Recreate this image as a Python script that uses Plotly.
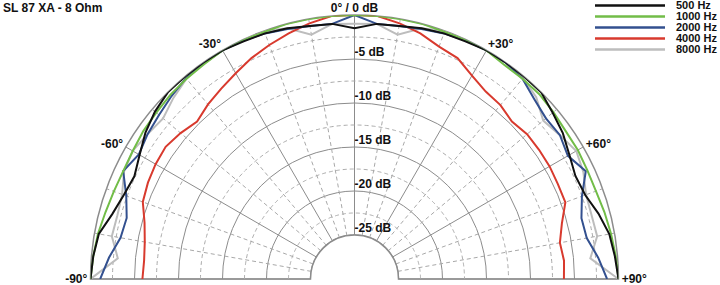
import numpy as np
import plotly.graph_objects as go

# ---------------- data ----------------
angles = list(range(-90, 95, 5))

db_500 = [0, -0.2, -0.5, -1.5, -2.1, -2.4, -1.8, -1.0, -0.4, 0, 0, 0, 0,
          -0.2, -0.3, -0.5, -0.8, -0.9, -1.5, -0.9, -0.8, -0.5, -0.3, -0.2,
          0, 0, 0, 0, -0.6, -1.1, -1.8, -2.3, -2.1, -1.3, -0.6, -0.3, 0]
db_1000 = [0, -0.2, -0.4, -0.7, -0.9, -1.0, -0.9, -0.7, -0.6, -0.4, -0.3, -0.2, 0,
           0, -0.1, 0, 0, 0, 0, 0, 0, 0, -0.1, 0,
           0, -0.3, -0.3, -0.3, -0.5, -0.7, -0.7, -0.8, -0.8, -0.6, -0.4, -0.2, 0]
db_2000 = [-1.1, -2.0, -3.0, -3.2, -2.4, -1.0, -1.7, -1.3, -1.0, -0.6, -0.2, -0.1, 0,
           -0.1, -0.3, -0.6, -0.8, -0.9, 0, -0.9, -0.8, -0.6, -0.3, -0.1,
           0, 0, -0.3, -1.1, -1.6, -1.5, -2.0, -1.0, -2.5, -3.3, -3.2, -2.2, -1.3]
db_4000 = [-5.9, -6.0, -5.8, -5.3, -4.4, -4.1, -3.9, -3.8, -4.2, -4.7, -4.1, -3.6, -3.0,
           -2.3, -1.7, -1.1, -0.5, 0, 0, 0, -0.5, -1.1, -1.9, -2.3,
           -3.3, -4.0, -4.2, -4.7, -4.4, -4.4, -4.4, -4.5, -4.5, -5.6, -6.3, -6.1, -6.2]
db_8000 = [0, -3.0, -2.0, -2.1, -1.9, -1.1, -0.9, -1.3, -1.6, -0.9, -0.3, 0, 0,
           0, 0, -0.5, -1.8, -0.9, -1.0, -0.9, -1.8, -0.5, 0, 0,
           0, 0, -0.2, -0.8, -2.0, -1.5, -0.9, -1.3, -2.0, -2.1, -2.0, -3.1, 0]

series_names = ["500 Hz", "1000 Hz", "2000 Hz", "4000 Hz", "8000 Hz"]
series_values = [db_500, db_1000, db_2000, db_4000, db_8000]
series_colors = ["#111111", "#72bd48", "#33508f", "#d83a2e", "#bdbdbd"]

radial_ticks = [-25, -20, -15, -10, -5, 0]
radial_labels = ["-25 dB", "-20 dB", "-15 dB", "-10 dB", "-5 dB"]
radial_label_vals = [-25, -20, -15, -10, -5]
minor_rings = [-22.5, -17.5, -12.5, -7.5, -2.5]
angle_ticks = [-90, -60, -30, 0, 30, 60, 90]
angle_labels = ["-90°", "-60°", "-30°", "", "+30°", "+60°", "+90°"]
top_label = "0° / 0 dB"
minor_spokes = [-80, -70, -50, -40, -20, -10, 10, 20, 40, 50, 70, 80]

title_text = "SL 87 XA - 8 Ohm"

# ---------------- figure ----------------
W, H = 720, 285
FONT = "Liberation Sans, Arial, sans-serif"
GRID = "#8c8c8c"
DASH = "#a8a8a8"
TXT = "#111111"

fig = go.Figure()

arc = np.linspace(-90, 90, 361)
for rr in minor_rings:
    fig.add_trace(go.Scatterpolar(r=[rr] * len(arc), theta=arc, mode="lines",
                                  line=dict(color=DASH, width=1, dash="4px,3px"),
                                  hoverinfo="skip", showlegend=False))
for a in minor_spokes:
    fig.add_trace(go.Scatterpolar(r=[radial_ticks[0], radial_ticks[-1]], theta=[a, a], mode="lines",
                                  line=dict(color=DASH, width=1, dash="4px,3px"),
                                  hoverinfo="skip", showlegend=False))
# inner (hole) ring
fig.add_trace(go.Scatterpolar(r=[radial_ticks[0]] * len(arc), theta=arc, mode="lines",
                              line=dict(color=GRID, width=1.3),
                              hoverinfo="skip", showlegend=False))

# dB labels along the 0° spoke
fig.add_trace(go.Scatterpolar(r=radial_label_vals, theta=[0] * len(radial_label_vals),
                              mode="text", text=radial_labels, textposition="top right",
                              textfont=dict(family=FONT, size=12, color=TXT, weight="bold"),
                              hoverinfo="skip", showlegend=False))
# top label (0° / 0 dB)
fig.add_trace(go.Scatterpolar(r=[radial_ticks[-1]], theta=[0], mode="text", text=[top_label],
                              textposition="top center",
                              textfont=dict(family=FONT, size=12, color=TXT, weight="bold"),
                              cliponaxis=False, hoverinfo="skip", showlegend=False))

draw_order = [4, 3, 2, 1, 0]
for i in draw_order:
    fig.add_trace(go.Scatterpolar(r=series_values[i], theta=angles, mode="lines",
                                  name=series_names[i],
                                  line=dict(color=series_colors[i], width=2),
                                  cliponaxis=False, showlegend=False))

fig.update_layout(
    width=W, height=H,
    margin=dict(l=0, r=0, t=0, b=0),
    paper_bgcolor="white",
    showlegend=False,
    polar=dict(
        domain=dict(x=[90.5 / W, 618.5 / W], y=[6 / H, 270 / H]),
        sector=[0, 180],
        hole=1 / 6,
        bgcolor="white",
        radialaxis=dict(range=[radial_ticks[0], radial_ticks[-1]], tickvals=radial_ticks,
                        showticklabels=False, ticks="", showline=False,
                        gridcolor=GRID, gridwidth=1.3, layer="below traces"),
        angularaxis=dict(rotation=90, direction="clockwise", thetaunit="degrees",
                         tickmode="array", tickvals=angle_ticks, ticktext=angle_labels,
                         ticks="", showline=True, linecolor=GRID, linewidth=1.5,
                         gridcolor=GRID, gridwidth=1.3, layer="below traces",
                         tickfont=dict(family=FONT, size=12, color=TXT, weight="bold")),
    ),
)

# title
fig.add_annotation(x=2 / W, y=1 - 8 / H, xref="paper", yref="paper", xanchor="left",
                   yanchor="middle", text=title_text, showarrow=False, borderpad=0,
                   font=dict(family=FONT, size=12, color=TXT, weight="bold"))

# legend (drawn manually to match the compact layout)
row_y = [5.5, 16.5, 27.5, 38.5, 49.5]
for i, name in enumerate(series_names):
    yp = 1 - row_y[i] / H
    fig.add_shape(type="line", xref="paper", yref="paper",
                  x0=595 / W, x1=665 / W, y0=yp, y1=yp,
                  line=dict(color=series_colors[i], width=2.5))
    fig.add_annotation(x=675 / W, y=yp, xref="paper", yref="paper", xanchor="left",
                       yanchor="middle", text=name, showarrow=False, borderpad=0,
                       font=dict(family=FONT, size=11, color=TXT, weight="bold"))

fig.write_html("out.html")
